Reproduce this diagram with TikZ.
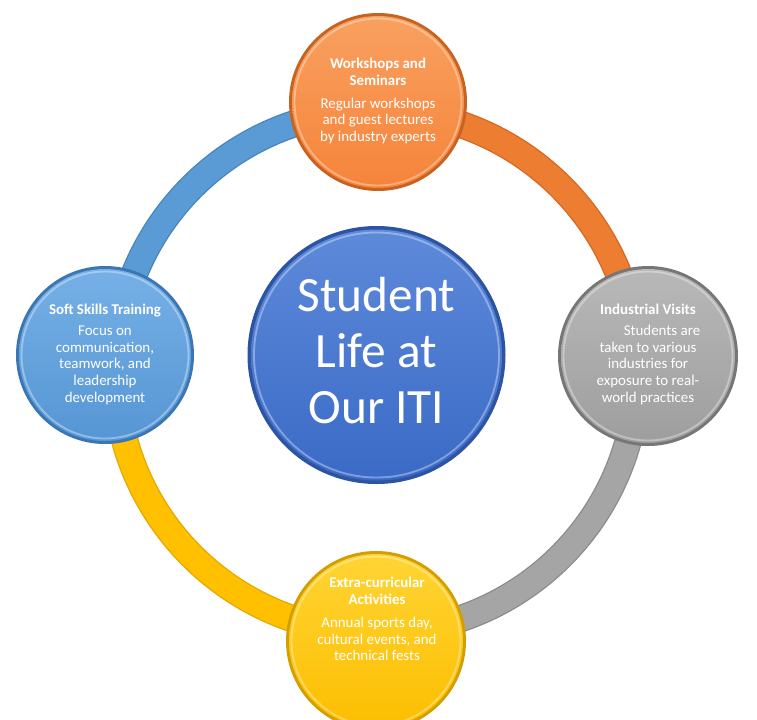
\documentclass[tikz,border=0pt]{standalone}
\usepackage{fontspec}
\setmainfont{Carlito}

\definecolor{ringBlue}{RGB}{91,155,213}
\definecolor{ringBlueEdge}{RGB}{72,132,190}
\definecolor{ringOrange}{RGB}{237,125,49}
\definecolor{ringOrangeEdge}{RGB}{212,104,34}
\definecolor{ringGray}{RGB}{165,165,165}
\definecolor{ringGrayEdge}{RGB}{140,140,140}
\definecolor{ringYellow}{RGB}{255,192,0}
\definecolor{ringYellowEdge}{RGB}{228,168,0}

\definecolor{wksMain}{RGB}{245,132,58}
\definecolor{wksLight}{RGB}{249,160,96}
\definecolor{wksDark}{RGB}{200,98,32}
\definecolor{sklMain}{RGB}{86,150,212}
\definecolor{sklLight}{RGB}{118,176,230}
\definecolor{sklDark}{RGB}{58,118,180}
\definecolor{visMain}{RGB}{158,158,158}
\definecolor{visLight}{RGB}{184,184,184}
\definecolor{visDark}{RGB}{118,118,118}
\definecolor{actMain}{RGB}{252,190,0}
\definecolor{actLight}{RGB}{255,212,52}
\definecolor{actDark}{RGB}{212,158,0}
\definecolor{hubMain}{RGB}{58,106,198}
\definecolor{hubLight}{RGB}{94,138,218}
\definecolor{hubDark}{RGB}{44,84,162}

\tikzset{every picture/.style={line width=0.75pt}}
\tikzset{
  ringedge/.style={line width=20.5pt},
  ringband/.style={line width=18.5pt},
  rim/.style={draw=white, draw opacity=0.35, line width=1.4pt},
  bubbletext/.style={text=white, align=center, font=\fontsize{11.2}{12.4}\selectfont},
  hubtext/.style={text=white, align=center, font=\fontsize{37}{42}\selectfont},
}

\begin{document}
\begin{tikzpicture}[x=0.75pt,y=0.75pt,yscale=-1,xscale=1]
	\useasboundingbox (0,0) rectangle (757,719);
	\clip (0,0) rectangle (757,719);
	\fill[white] (0,0) rectangle (757,719);

	\coordinate (ring) at (376.5,371.5);
	\coordinate (hub) at (376.5,355);
	\coordinate (wks) at (378,102);
	\coordinate (vis) at (648,356);
	\coordinate (act) at (376,641);
	\coordinate (skl) at (105,355);

	%Ring: four quarter arcs
	\draw[ringedge, ringBlueEdge] (ring) ++(180:261) arc (180:270:261);
	\draw[ringband, ringBlue] (ring) ++(180:261) arc (180:270:261);
	\draw[ringedge, ringOrangeEdge] (ring) ++(270:261) arc (270:360:261);
	\draw[ringband, ringOrange] (ring) ++(270:261) arc (270:360:261);
	\draw[ringedge, ringGrayEdge] (ring) ++(0:261) arc (0:90:261);
	\draw[ringband, ringGray] (ring) ++(0:261) arc (0:90:261);
	\draw[ringedge, ringYellowEdge] (ring) ++(90:261) arc (90:180:261);
	\draw[ringband, ringYellow] (ring) ++(90:261) arc (90:180:261);

	%Shape: Circle (workshops)
	\fill[wksDark] (wks) circle (89);
	\shade[top color=wksLight, bottom color=wksMain] (wks) circle (86);
	\path[rim] (wks) circle (83.5);
	%Shape: Circle (soft skills)
	\fill[sklDark] (skl) circle (89);
	\shade[top color=sklLight, bottom color=sklMain] (skl) circle (86);
	\path[rim] (skl) circle (83.5);
	%Shape: Circle (industrial visits)
	\fill[visDark] (vis) circle (90);
	\shade[top color=visLight, bottom color=visMain] (vis) circle (87);
	\path[rim] (vis) circle (84.5);
	%Shape: Circle (activities)
	\fill[actDark] (act) circle (90);
	\shade[top color=actLight, bottom color=actMain] (act) circle (87);
	\path[rim] (act) circle (84.5);
	%Shape: Circle (hub)
	\fill[hubDark] (hub) circle (129);
	\shade[top color=hubLight, bottom color=hubMain] (hub) circle (125.5);
	\path[rim] (hub) circle (122.5);

	% Text Node
	\node[hubtext] (hubtext) at (376.5,351) {Student\\Life at\\Our ITI};
	% Text Node
	\node[bubbletext] (wkstext) at (378,101) {\textbf{Workshops and}\\\textbf{Seminars}\\[5pt]Regular workshops\\and guest lectures\\by industry experts};
	% Text Node
	\node[bubbletext] (skltext) at (105,354) {\textbf{Soft Skills Training}\\[4pt]Focus on\\communication,\\teamwork, and\\leadership\\development};
	% Text Node
	\node[bubbletext] (vistext) at (648,354) {\textbf{Industrial Visits}\\[4pt]\hspace*{21pt}Students are\\taken to various\\industries for\\exposure to real-\\world practices};
	% Text Node
	\node[bubbletext] (acttext) at (377,619) {\textbf{Extra-curricular}\\\textbf{Activities}\\[5pt]Annual sports day,\\cultural events, and\\technical fests};

\end{tikzpicture}
\end{document}
